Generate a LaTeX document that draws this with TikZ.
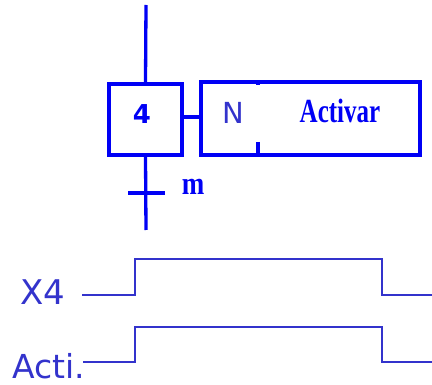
\documentclass[tikz,border=0pt]{standalone}
\usepackage{fontspec}
\setmainfont{Liberation Serif}
\setsansfont{DejaVu Sans}
\usetikzlibrary{positioning}
\definecolor{gblue}{RGB}{0,0,245}
\definecolor{tblue}{RGB}{51,51,204}
\tikzset{
  etapa/.style={draw=gblue, line width=3.3pt, minimum width=73pt, minimum height=71pt, inner sep=0pt},
  accion/.style={draw=gblue, line width=3.3pt, minimum width=219pt, minimum height=73pt, inner sep=0pt},
  enlace/.style={gblue, line width=3.3pt},
  senal/.style={tblue, line width=2.6pt},
}
\begin{document}
\begin{tikzpicture}[x=1pt, y=-1pt]
            \useasboundingbox (0,0) rectangle (432,385);

            % grafcet
            \node[etapa] (E4) at (145.5,119.5) {};
            \node[text=gblue, font=\sffamily\bfseries\fontsize{26}{26}\selectfont] (num) at (142,114) {4};
            \node[accion] (A4) at (310.5,118.5) {};
            \node[text=tblue, font=\sffamily\fontsize{29}{29}\selectfont] (N) at (233,113) {N};
            \node[text=gblue, font=\bfseries\fontsize{25}{25}\selectfont] (act) at (340,111) {\scalebox{1}[1.35]{Activar}};
            \coordinate (arriba) at (146,5);
            \coordinate (abajo) at (146,230);
            \coordinate (T) at (146,193);

            \draw[enlace] (arriba) -- (E4.north);
            \draw[enlace] (E4.south) -- (abajo);
            \draw[enlace] ([yshift=2.5]E4.east) -- ([yshift=2.5]E4.east -| A4.west);
            \draw[enlace] ([xshift=-18]T) -- ([xshift=19]T);
            \node[text=gblue, font=\bfseries\fontsize{27}{27}\selectfont] (m) at (193,187) {\scalebox{1}[1.2]{m}};

            % separador de la accion
            \draw[enlace] (258,82) -- (258,85);
            \draw[enlace] (258,142) -- (258,155);

            % cronograma
            \node[text=tblue, font=\sffamily\fontsize{34}{34}\selectfont] (X4) at (43,292) {X4};
            \node[text=tblue, font=\sffamily\fontsize{33}{33}\selectfont] (acti) at (49,366) {Acti.};
            \coordinate (x4ini) at (82,295);
            \coordinate (actini) at (83,362);

            \draw[senal] (x4ini) -- (135,295) -- (135,259) -- (382,259) -- (382,295) -- (432,295);
            \draw[senal] (actini) -- (135,362) -- (135,327) -- (382,327) -- (382,362) -- (432,362);
        \end{tikzpicture}
\end{document}
